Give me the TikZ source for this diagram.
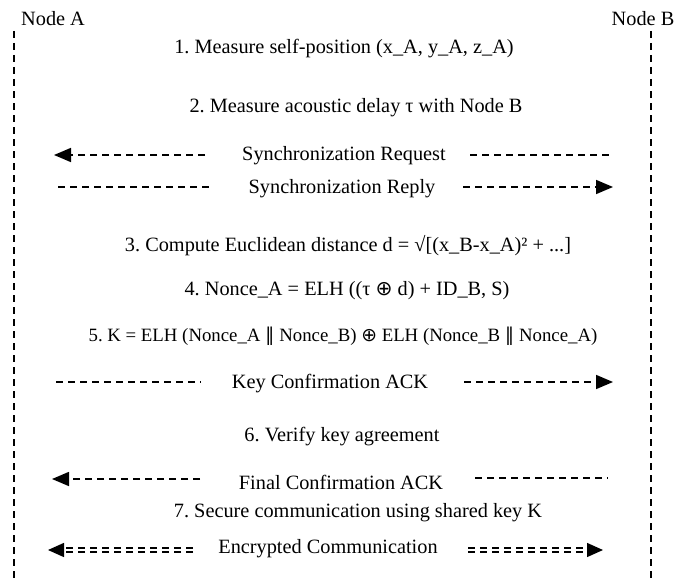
\documentclass[tikz,border=0pt]{standalone}
\usepackage{fontspec}
\setmainfont{Liberation Serif}
\newfontfamily\symfont{DejaVu Sans}
\usetikzlibrary{arrows.meta}
\newcommand{\xr}{{\symfont ⊕}}
\newcommand{\cc}{{\symfont ∥}}
\frenchspacing

\tikzset{
  lifeline/.style={line width=1.6pt, dash pattern=on 7pt off 5pt},
  msg/.style={line width=1.6pt, dash pattern=on 7pt off 5pt},
  msgto/.style={msg, -{Triangle[length=17pt,width=14pt]}},
  enc/.style={line width=1.4pt, double, double distance=2.4pt, dash pattern=on 7pt off 5pt},
  encto/.style={enc, -{Triangle[length=16pt,width=14pt]}},
  step text/.style={font=\fontsize{20.3}{24}\selectfont, inner sep=0pt},
}

\begin{document}
\begin{tikzpicture}[x=1pt,y=-1pt]
\useasboundingbox (0,0) rectangle (688,578);

% lifelines
\coordinate (A top) at (14,31);
\coordinate (A bot) at (14,578);
\coordinate (B top) at (651,31);
\coordinate (B bot) at (651,578);
\draw[lifeline] (A top) -- (A bot);
\draw[lifeline] (B top) -- (B bot);

\node[step text, anchor=west] (nodeA) at (21,19) {Node A};
\node[step text] (nodeB) at (643,19) {Node B};

% local steps
\node[step text] (s1) at (344,49) {1. Measure self-position (x\_A, y\_A, z\_A)};
\node[step text] (s2) at (356,108) {2. Measure acoustic delay τ with Node B};
\node[step text] (s3) at (348,246) {3. Compute Euclidean distance d = √[(x\_B-x\_A)² + ...]};
\node[step text] (s4) at (347,291) {4. Nonce\_A = ELH ((τ \xr\ d) + ID\_B, S)};
\node[step text, font=\fontsize{18.8}{22}\selectfont] (s5) at (343,336)
  {5. K = ELH (Nonce\_A \cc\ Nonce\_B) \xr\ ELH (Nonce\_B \cc\ Nonce\_A)};
\node[step text] (s6) at (342,437) {6. Verify key agreement};
\node[step text] (s7) at (358,513) {7. Secure communication using shared key K};

% messages
\node[step text] (m1) at (344,156) {Synchronization Request};
\coordinate (m1l) at (205,155); \coordinate (m1la) at (54,155);
\coordinate (m1r) at (470,155); \coordinate (m1ra) at (613,155);
\draw[msgto] (m1l) -- (m1la);
\draw[msg] (m1r) -- (m1ra);

\node[step text] (m2) at (342,189) {Synchronization Reply};
\coordinate (m2l) at (58,187); \coordinate (m2la) at (213,187);
\coordinate (m2r) at (463,187); \coordinate (m2ra) at (613,187);
\draw[msg] (m2l) -- (m2la);
\draw[msgto] (m2r) -- (m2ra);

\node[step text] (m3) at (330,384) {Key Confirmation ACK};
\coordinate (m3l) at (56,382); \coordinate (m3la) at (201,382);
\coordinate (m3r) at (464,382); \coordinate (m3ra) at (613,382);
\draw[msg] (m3l) -- (m3la);
\draw[msgto] (m3r) -- (m3ra);

\node[step text] (m4) at (341,482) {Final Confirmation ACK};
\coordinate (m4l) at (200,479); \coordinate (m4la) at (52,479);
\coordinate (m4r) at (475,478); \coordinate (m4ra) at (608,478);
\draw[msgto] (m4l) -- (m4la);
\draw[msg] (m4r) -- (m4ra);

\node[step text] (m5) at (328,549) {Encrypted Communication};
\coordinate (m5l) at (193,550); \coordinate (m5la) at (48,550);
\coordinate (m5r) at (468,550); \coordinate (m5ra) at (603,550);
\draw[encto] (m5l) -- (m5la);
\draw[encto] (m5r) -- (m5ra);

\end{tikzpicture}
\end{document}
